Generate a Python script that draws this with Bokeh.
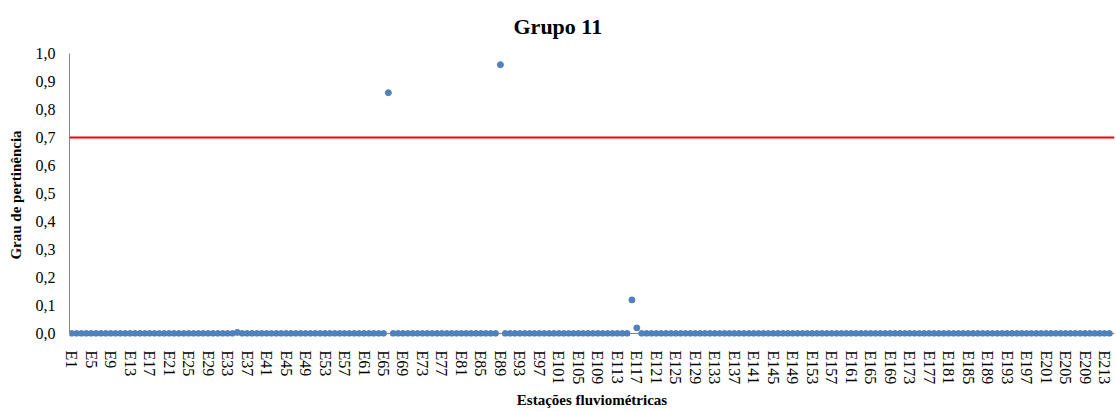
from bokeh.plotting import figure
from bokeh.models import ColumnDataSource, Span, FixedTicker, CustomJSTickFormatter, Range1d, Title
from bokeh.embed import file_html
from bokeh.resources import INLINE

# ---- data ----
stations = [f"E{i}" for i in range(1, 215)]
membership = [
    0, 0, 0, 0, 0, 0, 0, 0, 0, 0,
    0, 0, 0, 0, 0, 0, 0, 0, 0, 0,
    0, 0, 0, 0, 0, 0, 0, 0, 0, 0,
    0, 0, 0, 0, 0.004, 0, 0, 0, 0, 0,
    0, 0, 0, 0, 0, 0, 0, 0, 0, 0,
    0, 0, 0, 0, 0, 0, 0, 0, 0, 0,
    0, 0, 0, 0, 0, 0.86, 0, 0, 0, 0,
    0, 0, 0, 0, 0, 0, 0, 0, 0, 0,
    0, 0, 0, 0, 0, 0, 0, 0, 0.96, 0,
    0, 0, 0, 0, 0, 0, 0, 0, 0, 0,
    0, 0, 0, 0, 0, 0, 0, 0, 0, 0,
    0, 0, 0, 0, 0, 0.12, 0.02, 0, 0, 0,
    0, 0, 0, 0, 0, 0, 0, 0, 0, 0,
    0, 0, 0, 0, 0, 0, 0, 0, 0, 0,
    0, 0, 0, 0, 0, 0, 0, 0, 0, 0,
    0, 0, 0, 0, 0, 0, 0, 0, 0, 0,
    0, 0, 0, 0, 0, 0, 0, 0, 0, 0,
    0, 0, 0, 0, 0, 0, 0, 0, 0, 0,
    0, 0, 0, 0, 0, 0, 0, 0, 0, 0,
    0, 0, 0, 0, 0, 0, 0, 0, 0, 0,
    0, 0, 0, 0, 0, 0, 0, 0, 0, 0,
    0, 0, 0, 0,
]
threshold = 0.7
tick_every = 4
y_ticks = [0.0, 0.1, 0.2, 0.3, 0.4, 0.5, 0.6, 0.7, 0.8, 0.9, 1.0]
title_text = "Grupo 11"

FONT = "Liberation Serif"

src = ColumnDataSource(dict(x=list(range(len(stations))), y=membership, name=stations))

p = figure(width=1116, height=412, output_backend="svg", toolbar_location=None,
           x_range=Range1d(-0.45, 214.05), y_range=Range1d(-0.0107, 1.0),
           min_border_left=69, min_border_right=2, min_border_top=53, min_border_bottom=76)
p.title = None
t = Title(text=title_text, align="left", offset=444, standoff=26, vertical_align="top",
          text_font=FONT, text_font_size="22px", text_font_style="bold", text_color="#000000")
p.add_layout(t, "above")

p.outline_line_color = None
p.xgrid.visible = False
p.ygrid.visible = False

# x axis line at y = 0 (gray)
p.add_layout(Span(location=0, dimension="width", line_color="#868686", line_width=1, level="underlay"))
p.add_layout(Span(location=threshold, dimension="width", line_color="#FF0000", line_width=2))

p.scatter("x", "y", source=src, size=6, color="#4F81BD", line_color="#4F81BD")

# x axis
tick_idx = list(range(0, len(stations), tick_every))
p.xaxis.ticker = FixedTicker(ticks=tick_idx)
p.xaxis.major_label_overrides = {i: stations[i] for i in tick_idx}
p.xaxis.major_label_orientation = "vertical"
p.xaxis.axis_line_color = None
p.xaxis.major_tick_line_color = None
p.xaxis.minor_tick_line_color = None
p.xaxis.major_tick_out = 0
p.xaxis.major_tick_in = 0
p.xaxis.major_label_standoff = 14
p.xaxis.major_label_text_font = FONT
p.xaxis.major_label_text_font_size = "16px"
p.xaxis.major_label_text_color = "#000000"
p.xaxis.axis_label = "Estações fluviométricas"
p.xaxis.axis_label_text_font = FONT
p.xaxis.axis_label_text_font_size = "15px"
p.xaxis.axis_label_text_font_style = "bold"
p.xaxis.axis_label_text_color = "#000000"
p.xaxis.axis_label_standoff = 5

# y axis
p.yaxis.ticker = FixedTicker(ticks=y_ticks)
p.yaxis.formatter = CustomJSTickFormatter(code="return tick.toFixed(1).replace('.', ',');")
p.yaxis.bounds = (0, 1)
p.yaxis.axis_line_color = "#868686"
p.yaxis.major_tick_line_color = None
p.yaxis.minor_tick_line_color = None
p.yaxis.major_tick_out = 0
p.yaxis.major_tick_in = 0
p.yaxis.major_label_standoff = 14
p.yaxis.major_label_text_font = FONT
p.yaxis.major_label_text_font_size = "16px"
p.yaxis.major_label_text_color = "#000000"
p.yaxis.axis_label = "Grau de pertinência"
p.yaxis.axis_label_text_font = FONT
p.yaxis.axis_label_text_font_size = "15px"
p.yaxis.axis_label_text_font_style = "bold"
p.yaxis.axis_label_text_color = "#000000"
p.yaxis.axis_label_standoff = 9

open("out.html", "w").write(file_html(p, INLINE))
